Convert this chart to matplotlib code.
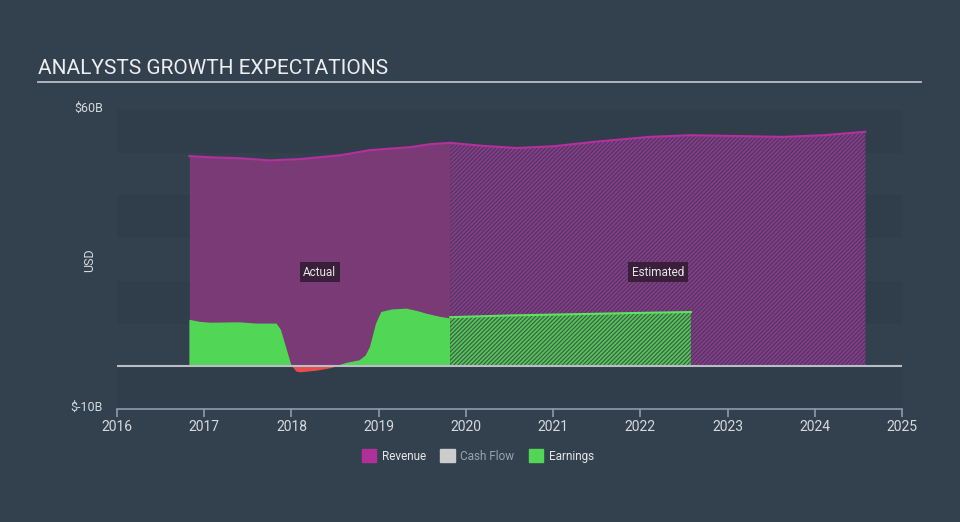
import matplotlib.pyplot as plt
import matplotlib.patches as mpatches
import numpy as np

plt.rcParams['font.family'] = ['Roboto', 'DejaVu Sans']
plt.rcParams['hatch.linewidth'] = 1.3

# revenue, $B
rev_act_x = [2016.83, 2017.1, 2017.41, 2017.75, 2018.1, 2018.56, 2018.9, 2019.36, 2019.59, 2019.82]
rev_act_y = [49.2, 48.9, 48.7, 48.2, 48.5, 49.4, 50.6, 51.3, 52.0, 52.3]
rev_est_x = [2019.82, 2020.2, 2020.58, 2021.0, 2021.5, 2022.1, 2022.57, 2023.1, 2023.64, 2024.1, 2024.58]
rev_est_y = [52.3, 51.6, 51.1, 51.5, 52.6, 53.7, 54.1, 53.9, 53.7, 54.1, 54.9]

# earnings, $B
earn_act_x = [2016.83, 2016.95, 2017.07, 2017.4, 2017.6, 2017.83, 2017.88, 2018.0, 2018.05, 2018.1,
              2018.29, 2018.45, 2018.52, 2018.63, 2018.78, 2018.85, 2018.9, 2018.97, 2019.03,
              2019.15, 2019.32, 2019.45, 2019.55, 2019.7, 2019.82]
earn_act_y = [10.9, 10.4, 10.2, 10.3, 10.0, 10.0, 8.5, 0.2, -1.1, -1.3,
              -0.9, -0.3, 0.1, 0.8, 1.4, 2.5, 4.5, 10.0, 12.7,
              13.3, 13.5, 12.9, 12.3, 11.6, 11.2]
earn_est_x = [2019.82, 2020.5, 2021.0, 2021.5, 2022.0, 2022.58]
earn_est_y = [11.5, 11.9, 12.1, 12.3, 12.5, 12.7]

years = list(range(2016, 2026))

bg = '#33414f'
fig = plt.figure(figsize=(9.6, 5.22), dpi=100, facecolor=bg)
ax = fig.add_axes([117 / 960, 1 - 409 / 522, 785 / 960, 299 / 522])
ax.set_facecolor(bg)
ax.set_xlim(2016, 2025)
ax.set_ylim(-10, 60)

for lo in [-10, 10, 30, 50]:
    ax.axhspan(lo, lo + 10, color='#303d4b', lw=0, zorder=0)

# revenue
ax.fill_between(rev_act_x, 0, rev_act_y, color='#7a3a75', lw=0, zorder=1)
ax.fill_between(rev_est_x, 0, rev_est_y, facecolor='#443a5a', edgecolor='#8b3a8a',
                hatch='////////', lw=0, zorder=1)
ax.plot(rev_act_x, rev_act_y, color='#b5309f', lw=1.5, zorder=3)
ax.plot(rev_est_x, rev_est_y, color='#b5309f', lw=1.5, zorder=3)

# earnings
ex = np.array(earn_act_x)
ey = np.array(earn_act_y)
ax.fill_between(ex, 0, ey, where=ey >= 0, interpolate=True, color='#52d656', lw=0, zorder=2)
ax.fill_between(ex, 0, ey, where=ey <= 0, interpolate=True, color='#e84c4c', lw=0, zorder=2)
ax.fill_between(earn_est_x, 0, earn_est_y, facecolor='#3f574a', edgecolor='#52c656',
                hatch='////////', lw=0, zorder=2)
ax.plot(earn_est_x, earn_est_y, color='#5ee35e', lw=1.5, zorder=3)

ax.axhline(0, color='#b9bec4', lw=1.5, zorder=4)

box = dict(boxstyle='square,pad=0.3', facecolor='#3a1f3a', edgecolor='none')
ax.text((rev_act_x[0] + rev_act_x[-1]) / 2, 22, 'Actual', color='#e6e6e6', fontsize=8.5,
        ha='center', va='center', bbox=box, zorder=5)
ax.text((rev_est_x[0] + rev_est_x[-1]) / 2, 22, 'Estimated', color='#e6e6e6', fontsize=8.5,
        ha='center', va='center', bbox=box, zorder=5)

for s in ['top', 'right', 'left']:
    ax.spines[s].set_visible(False)
ax.spines['bottom'].set_color('#8e9bab')
ax.spines['bottom'].set_linewidth(1.2)
ax.set_xticks(years)
ax.set_xticklabels([str(y) for y in years])
ax.tick_params(axis='x', colors='#8e9bab', length=6, width=1.2, labelcolor='#d6dade',
               labelsize=10, pad=2)
ax.set_yticks([])

fig.text(103 / 960, 1 - 108 / 522, '$60B', color='#d6dade', fontsize=9, ha='right', va='center')
fig.text(103 / 960, 1 - 407 / 522, '$-10B', color='#d6dade', fontsize=9, ha='right', va='center')
fig.text(90 / 960, 1 - 260 / 522, 'USD', color='#d6dade', fontsize=9, rotation=90,
         ha='center', va='center')

fig.text(38 / 960, 1 - 68 / 522, 'ANALYSTS GROWTH EXPECTATIONS', color='#eceef0', fontsize=15,
         ha='left', va='center')
fig.add_artist(plt.Line2D([38 / 960, 921 / 960], [1 - 82 / 522, 1 - 82 / 522],
                          color='#b8bec6', lw=1.3))

handles = [mpatches.Patch(color='#b0309a', label='Revenue'),
           mpatches.Patch(color='#cccccc', label='Cash Flow'),
           mpatches.Patch(color='#52d656', label='Earnings')]
leg = fig.legend(handles=handles, loc='center', bbox_to_anchor=(478 / 960, 1 - 456 / 522),
                 ncol=3, frameon=False, fontsize=8.5, handlelength=1.2, handleheight=1.2,
                 columnspacing=1.2, handletextpad=0.5)
for t, c in zip(leg.get_texts(), ['#e6e6e6', '#9aa3ad', '#e6e6e6']):
    t.set_color(c)

fig.savefig('out.png', dpi=100, facecolor=bg)
